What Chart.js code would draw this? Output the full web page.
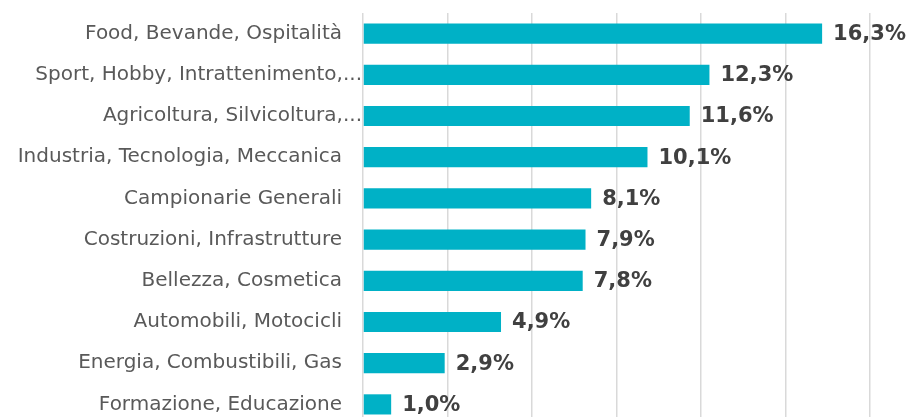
<!DOCTYPE html>
<html>
<head>
<meta charset="utf-8">
<script src="https://cdn.jsdelivr.net/npm/chart.js@4/dist/chart.umd.min.js"></script>
<style>
  html, body { margin: 0; padding: 0; background: #fff; overflow: hidden; }
  #wrap { width: 913px; height: 438px; }
</style>
</head>
<body>
<div id="wrap"><canvas id="sectorChart" width="913" height="438"></canvas></div>
<script>
// Categories (top to bottom) and their share in percent
const categories = [
    "Food, Bevande, Ospitalità",
    "Sport, Hobby, Intrattenimento,...",
    "Agricoltura, Silvicoltura,...",
    "Industria, Tecnologia, Meccanica",
    "Campionarie Generali",
    "Costruzioni, Infrastrutture",
    "Bellezza, Cosmetica",
    "Automobili, Motocicli",
    "Energia, Combustibili, Gas",
    "Formazione, Educazione"
];
const shares = [16.3, 12.3, 11.6, 10.1, 8.1, 7.9, 7.8, 4.9, 2.9, 1.0];

// Gridline positions on the value axis (no labels shown)
const axisMin = 0;
const axisMax = 18;
const axisStep = 3;

const barColor = '#00B1C6';

// Draw the "16,3%" style labels at the end of each bar
const valueLabels = {
    id: 'valueLabels',
    afterDatasetsDraw(chart) {
        const ctx = chart.ctx;
        const meta = chart.getDatasetMeta(0);
        ctx.save();
        ctx.font = 'bold 21px "DejaVu Sans"';
        ctx.fillStyle = '#404040';
        ctx.textAlign = 'left';
        ctx.textBaseline = 'middle';
        meta.data.forEach((bar, i) => {
            const text = shares[i].toFixed(1).replace('.', ',') + '%';
            ctx.fillText(text, bar.x + 11, bar.y + 1);
        });
        ctx.restore();
    }
};

const ctx = document.getElementById('sectorChart').getContext('2d');
const sectorChart = new Chart(ctx, {
    type: 'bar',
    data: {
        labels: categories,
        datasets: [{
            data: shares,
            backgroundColor: barColor,
            borderWidth: 0,
            categoryPercentage: 1,
            barPercentage: 0.49
        }]
    },
    options: {
        indexAxis: 'y',
        responsive: false,
        animation: false,
        layout: { padding: { top: 11, right: 43, bottom: 1, left: 0 } },
        plugins: {
            legend: { display: false },
            tooltip: { enabled: false }
        },
        scales: {
            x: {
                min: axisMin,
                max: axisMax,
                ticks: { stepSize: axisStep, display: false },
                grid: { color: '#D9D9D9', lineWidth: 1.5, drawTicks: false },
                border: { display: false },
                afterFit(scale) { scale.height = 0; }
            },
            y: {
                grid: { display: false, drawTicks: false },
                border: { display: false },
                afterFit(scale) { scale.width = 363; },
                ticks: {
                    padding: 1,
                    color: '#595959',
                    font: { family: '"DejaVu Sans"', size: 20 },
                    // truncated labels run right up to the axis, the others keep a gap
                    callback: function (value) {
                        const label = categories[value];
                        return label.endsWith('...') ? label : label + '\u2003';
                    }
                }
            }
        }
    },
    plugins: [valueLabels]
});
</script>
</body>
</html>
